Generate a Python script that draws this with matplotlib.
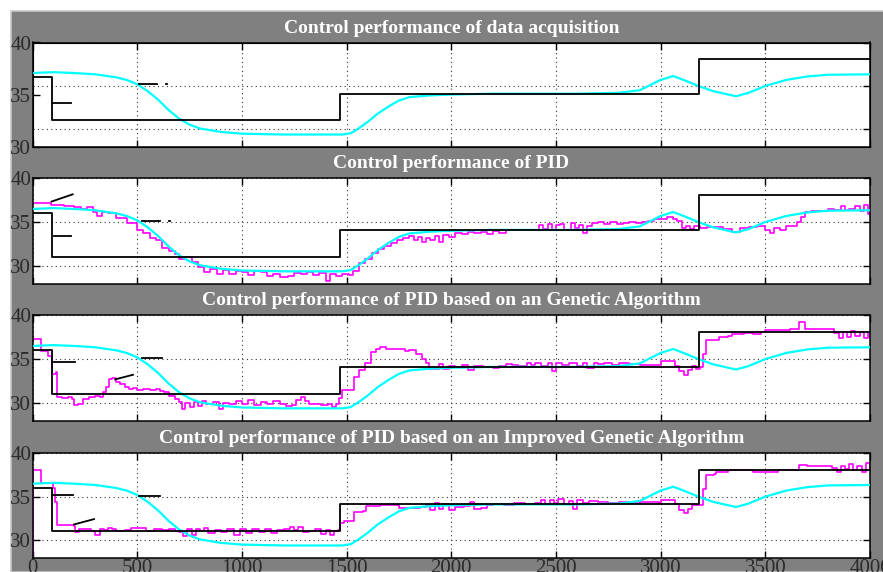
import matplotlib.pyplot as plt
from matplotlib.patches import Rectangle

plt.rcParams["font.family"] = ["Liberation Serif", "DejaVu Serif"]

# Setpoint (black step) and simulated response (cyan), shared by all panels
t_set = [0, 95, 95, 1470, 1470, 3185, 3185, 4000]
y_set = [36.05, 36.05, 31.05, 31.05, 34.1, 34.1, 38.1, 38.1]

t_model = [0, 100, 200, 300, 400, 450, 500, 550, 600, 650, 700, 750, 800, 900,
           1000, 1200, 1480, 1520, 1560, 1600, 1650, 1700, 1750, 1800, 1900,
           2000, 2200, 2600, 2800, 2900, 2950, 3000, 3060, 3120, 3180, 3250,
           3360, 3420, 3500, 3600, 3700, 3800, 4000]
y_model = [36.5, 36.6, 36.5, 36.35, 36.0, 35.7, 35.2, 34.4, 33.4, 32.2, 31.2,
           30.5, 30.05, 29.65, 29.45, 29.35, 29.35, 29.5, 30.1, 30.8, 31.8,
           32.6, 33.3, 33.7, 33.9, 34.0, 34.1, 34.1, 34.2, 34.5, 35.1, 35.7,
           36.15, 35.6, 35.0, 34.4, 33.8, 34.2, 35.0, 35.7, 36.1, 36.3, 36.35]

# Measured temperature (magenta) for the three controllers
t_pid = [0, 80, 90, 150, 200, 230, 260, 290, 310, 330, 360, 400, 450, 500, 530,
         560, 590, 620, 650, 680, 700, 730, 760, 790, 820, 850, 880, 910, 940,
         970, 1000, 1030, 1060, 1090, 1120, 1150, 1180, 1220, 1250, 1280, 1310,
         1340, 1370, 1400, 1420, 1450, 1480, 1510, 1530, 1560, 1590, 1620, 1650,
         1680, 1710, 1740, 1770, 1800, 1820, 1840, 1860, 1880, 1900, 1920, 1940,
         1960, 1990, 2020, 2050, 2080, 2110, 2140, 2170, 2200, 2230, 2260, 2300,
         2350, 2400, 2420, 2440, 2460, 2480, 2500, 2520, 2540, 2570, 2590, 2610,
         2630, 2650, 2670, 2700, 2730, 2760, 2790, 2820, 2850, 2880, 2910, 2940,
         2970, 3000, 3030, 3060, 3080, 3100, 3120, 3140, 3160, 3190, 3220, 3260,
         3300, 3340, 3380, 3420, 3460, 3500, 3520, 3540, 3570, 3600, 3630, 3650,
         3670, 3690, 3720, 3760, 3800, 3830, 3860, 3880, 3900, 3930, 3950, 3970,
         3990, 4000]
y_pid = [37.2, 37.2, 36.9, 36.8, 36.7, 36.5, 36.7, 36.2, 35.7, 36.2, 36.0, 35.5,
         34.9, 34.1, 33.8, 33.2, 32.9, 32.0, 31.7, 31.3, 30.8, 31.0, 30.4, 29.9,
         29.3, 29.6, 29.1, 29.5, 29.0, 29.4, 29.3, 28.9, 29.4, 29.3, 28.8, 29.0,
         28.7, 28.8, 29.2, 29.0, 29.3, 28.9, 29.2, 28.3, 29.1, 28.8, 29.0, 28.9,
         29.4, 30.3, 30.8, 31.4, 31.9, 32.3, 32.6, 32.9, 33.2, 33.4, 33.0, 33.3,
         32.7, 33.2, 32.9, 33.4, 32.7, 33.5, 33.3, 33.8, 33.6, 33.9, 33.7, 33.9,
         33.6, 34.0, 33.7, 34.1, 34.1, 34.1, 34.1, 34.7, 34.2, 34.8, 34.1, 34.7,
         34.8, 34.1, 34.9, 34.3, 34.7, 33.7, 34.6, 34.9, 35.0, 34.8, 35.0, 34.8,
         34.9, 35.0, 34.9, 35.0, 35.1, 35.3, 35.4, 35.6, 35.3, 35.1, 34.3, 34.6,
         34.2, 34.6, 34.3, 34.4, 34.4, 34.2, 33.9, 34.3, 34.4, 34.5, 34.1, 33.8,
         34.3, 34.1, 34.5, 34.6, 35.0, 35.6, 36.2, 36.3, 36.3, 36.5, 36.4, 36.8,
         36.4, 36.5, 36.8, 36.3, 36.9, 35.9, 36.2]

t_ga = [0, 35, 40, 70, 75, 92, 95, 110, 115, 140, 170, 190, 200, 215, 240, 270,
        300, 320, 335, 350, 365, 380, 400, 420, 440, 460, 480, 500, 530, 560,
        590, 610, 630, 650, 680, 700, 715, 730, 750, 770, 790, 810, 830, 860,
        890, 910, 940, 970, 1000, 1030, 1060, 1090, 1120, 1150, 1180, 1210,
        1240, 1260, 1280, 1300, 1320, 1350, 1380, 1410, 1430, 1450, 1465, 1480,
        1520, 1535, 1560, 1590, 1615, 1640, 1660, 1690, 1720, 1750, 1780, 1800,
        1830, 1860, 1880, 1895, 1920, 1940, 1960, 1990, 2020, 2050, 2080, 2110,
        2150, 2200, 2230, 2260, 2290, 2320, 2360, 2380, 2400, 2430, 2460, 2480,
        2500, 2530, 2560, 2600, 2630, 2650, 2680, 2700, 2730, 2770, 2800, 2850,
        2900, 2950, 2990, 3000, 3050, 3070, 3090, 3110, 3130, 3150, 3170, 3190,
        3200, 3215, 3260, 3280, 3320, 3340, 3400, 3440, 3480, 3500, 3560, 3620,
        3650, 3660, 3680, 3690, 3740, 3800, 3830, 3850, 3870, 3890, 3910, 3930,
        3950, 3970, 3990, 4000]
y_ga = [37.3, 37.3, 35.9, 35.9, 35.4, 35.4, 33.3, 33.5, 30.6, 30.5, 30.6, 30.4,
        29.7, 29.9, 30.4, 30.6, 30.8, 30.6, 31.2, 31.8, 32.7, 32.8, 32.4, 32.1,
        31.8, 31.6, 31.7, 31.5, 31.6, 31.4, 31.6, 31.3, 31.2, 30.8, 30.4, 30.1,
        29.3, 30.0, 29.5, 30.1, 29.6, 30.2, 29.9, 30.1, 29.3, 30.0, 29.8, 30.2,
        29.9, 30.3, 29.7, 30.1, 29.8, 30.2, 29.8, 29.6, 29.7, 30.3, 30.6, 30.2,
        29.8, 29.8, 29.7, 29.9, 29.5, 29.9, 30.5, 31.4, 31.4, 33.0, 33.8, 34.6,
        35.8, 36.2, 36.4, 36.1, 36.1, 36.1, 35.9, 36.0, 35.6, 35.0, 34.5, 33.9,
        33.9, 34.4, 33.9, 34.2, 34.1, 34.3, 33.8, 34.2, 34.1, 34.0, 34.2, 34.4,
        34.3, 34.2, 34.5, 34.3, 34.6, 34.2, 34.6, 33.6, 34.5, 34.3, 34.6, 34.2,
        34.5, 34.0, 34.6, 34.4, 34.5, 34.3, 34.5, 34.4, 34.3, 34.3, 34.3, 34.8,
        34.8, 34.2, 33.6, 33.2, 33.8, 34.2, 33.9, 34.1, 35.6, 37.2, 37.2, 37.5,
        37.6, 37.9, 38.0, 37.9, 38.1, 38.3, 38.3, 38.4, 38.4, 39.2, 39.2, 38.5,
        38.4, 38.4, 38.0, 37.4, 38.1, 37.5, 38.2, 37.6, 38.1, 37.4, 38.0, 37.5]

t_iga = [0, 2, 40, 42, 95, 100, 108, 118, 200, 205, 220, 260, 280, 300, 320,
         340, 360, 380, 400, 440, 470, 520, 540, 580, 620, 650, 680, 700, 720,
         740, 760, 780, 800, 820, 840, 870, 900, 930, 960, 990, 1020, 1050, 1080,
         1110, 1140, 1170, 1200, 1230, 1250, 1270, 1290, 1320, 1350, 1380, 1400,
         1420, 1440, 1460, 1470, 1490, 1530, 1535, 1580, 1595, 1620, 1660, 1700,
         1750, 1800, 1850, 1880, 1900, 1920, 1940, 1960, 1990, 2020, 2060, 2090,
         2110, 2140, 2170, 2200, 2250, 2300, 2350, 2400, 2430, 2450, 2470, 2490,
         2510, 2540, 2560, 2580, 2600, 2630, 2660, 2700, 2750, 2800, 2850, 2900,
         2990, 3000, 3050, 3070, 3090, 3110, 3130, 3150, 3180, 3200, 3215, 3255,
         3265, 3300, 3320, 3430, 3440, 3540, 3560, 3650, 3660, 3680, 3700, 3800,
         3820, 3840, 3860, 3880, 3900, 3920, 3940, 3960, 3980, 4000]
y_iga = [27.0, 38.1, 38.1, 36.6, 36.6, 36.0, 34.4, 31.7, 31.6, 30.9, 31.3, 31.3,
         31.0, 30.6, 31.2, 31.1, 31.4, 31.3, 31.0, 31.1, 31.4, 31.4, 31.0, 31.3,
         31.1, 31.2, 31.0, 30.9, 30.4, 31.3, 30.6, 31.2, 31.0, 31.4, 30.8, 31.1,
         30.9, 31.3, 30.6, 31.2, 30.8, 31.3, 30.9, 31.2, 30.8, 31.1, 31.3, 31.5,
         31.1, 31.5, 30.9, 31.0, 31.2, 30.7, 31.1, 30.6, 31.0, 31.1, 32.0, 32.2,
         32.2, 33.2, 33.3, 33.9, 33.9, 34.0, 34.0, 33.7, 33.7, 33.8, 34.0, 33.5,
         34.3, 33.6, 34.2, 33.5, 33.8, 33.9, 34.4, 33.6, 33.7, 34.0, 34.1, 34.0,
         34.3, 34.2, 34.3, 34.6, 34.2, 34.6, 34.3, 34.7, 34.2, 34.5, 33.6, 34.6,
         34.3, 34.5, 34.4, 34.3, 34.4, 34.3, 34.4, 34.3, 34.6, 34.6, 34.2, 33.4,
         33.1, 33.6, 34.0, 34.0, 35.9, 37.5, 37.6, 37.8, 37.8, 38.1, 38.1, 37.9,
         37.9, 38.1, 38.1, 38.7, 38.7, 38.5, 38.5, 38.3, 37.9, 38.5, 38.2, 38.8,
         38.1, 38.6, 37.9, 38.9, 38.3]

# Stray short black strokes left in each panel: (t0, t1, y0, y1)
strokes = [
    [(91, 184, 33.06, 33.06), (507, 595, 35.2, 35.2), (638, 642, 35.2, 35.2)],
    [(91, 192, 37.35, 38.18), (102, 182, 33.37, 33.37), (523, 611, 35.08, 35.08),
     (654, 658, 35.1, 35.1)],
    [(94, 203, 34.7, 34.7), (395, 480, 32.67, 33.2), (523, 619, 35.08, 35.08)],
    [(94, 192, 35.2, 35.2), (198, 294, 31.78, 32.4), (511, 607, 35.08, 35.08)],
]

titles = [
    "Control performance of data acquisition",
    "Control performance of PID",
    "Control performance of PID based on an Genetic Algorithm",
    "Control performance of PID based on an Improved Genetic Algorithm",
]
measured = [None, (t_pid, y_pid), (t_ga, y_ga), (t_iga, y_iga)]
x_ticks = [0, 500, 1000, 1500, 2000, 2500, 3000, 3500, 4000]
y_ticks = [30, 35, 40]

W, H = 883, 572
fig = plt.figure(figsize=(W / 100, H / 100), dpi=100, facecolor="white")
fig.patches.append(Rectangle((11 / W, 0), 1, 1 - 11 / H, transform=fig.transFigure,
                             facecolor="#808080", edgecolor="#c8c8c8", lw=1.2,
                             zorder=-10))

tops = [42.5, 178, 315, 453]
heights = [104.5, 106, 106, 105]
grid_kw = dict(color="#333333", linestyle=(0, (1, 3)), linewidth=0.8)

for i in range(4):
    top, h = tops[i], heights[i]
    ax = fig.add_axes([32.5 / W, 1 - (top + h) / H, 837.5 / W, h / H])
    ax.set_facecolor("white")
    ax.set_xlim(0, 4000)
    ax.set_xticks(x_ticks)
    ax.set_yticks(y_ticks)
    ax.tick_params(direction="in", length=5, width=1, top=True, right=True,
                   labelsize=15, labelcolor="#2a2a2a", pad=1)
    if i < 3:
        ax.tick_params(labelbottom=False)
    for s in ax.spines.values():
        s.set_linewidth(1.1)
    ax.set_title(titles[i], color="white", fontweight="bold", fontsize=14, pad=7)

    if i == 0:
        # first panel: labelled axis 30..40, curves on an overlaid axis
        ax.set_ylim(30, 40)
        ax.xaxis.grid(True, **grid_kw)
        pa = ax.twinx()
        pa.set_ylim(27.9, 40.05)
        pa.set_yticks(y_ticks)
        pa.tick_params(direction="in", length=5, width=1, labelright=False)
        pa.yaxis.grid(True, **grid_kw)
    else:
        ax.set_ylim(27.9, 40.05)
        ax.grid(True, **grid_kw)
        pa = ax

    pa.plot(t_model, y_model, color="#00ffff", lw=1.6, zorder=3)
    if measured[i] is not None:
        pa.plot(measured[i][0], measured[i][1], color="#ff00ff", lw=1.2,
                drawstyle="steps-post", zorder=2)
    pa.plot(t_set, y_set, color="black", lw=1.3, zorder=4)
    for t0, t1, y0, y1 in strokes[i]:
        pa.plot([t0, t1], [y0, y1], color="black", lw=1.3, zorder=4)

fig.savefig("out.png", dpi=100, facecolor=fig.get_facecolor())
